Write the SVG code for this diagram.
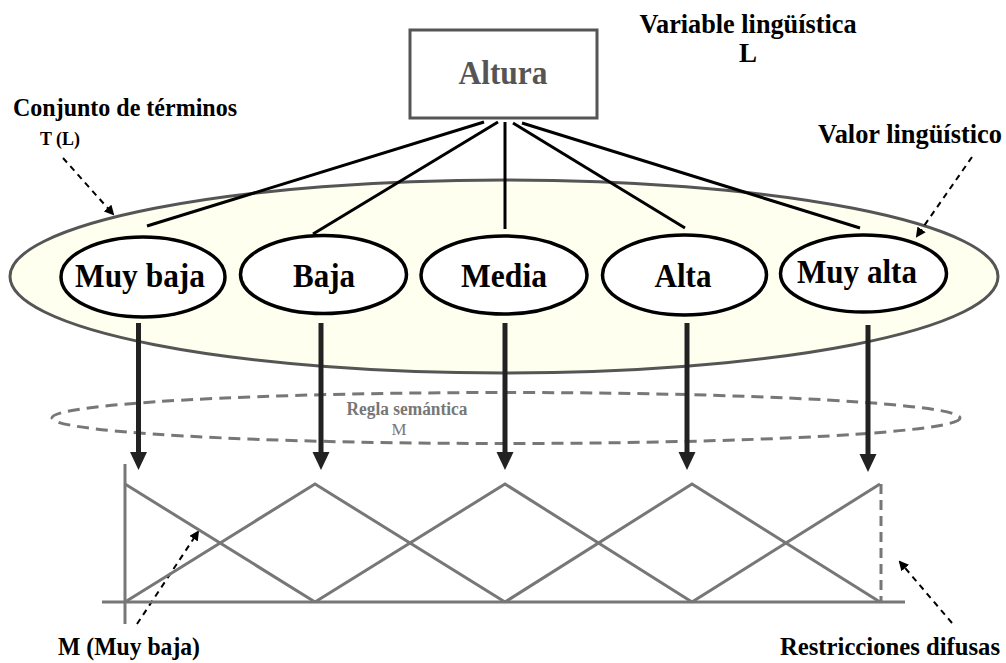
<svg xmlns="http://www.w3.org/2000/svg" width="1006" height="663" viewBox="0 0 1006 663">
  <defs>
    <style>
      text { font-family: "Liberation Serif", "Times New Roman", Tinos, "Nimbus Roman", Times, serif; font-weight: bold; }
      .lbl { fill: #000; }
      .term { fill: #fff; stroke: #000; stroke-width: 3.5; }
      .term-text { font-size: 33px; fill: #000; text-anchor: middle; }
      .link { stroke: #000; stroke-width: 3; fill: none; }
      .thick { stroke: #222; stroke-width: 5; fill: none; }
      .head { fill: #222; }
      .note { stroke: #000; stroke-width: 2; stroke-dasharray: 6 5; fill: none; }
      .mf { stroke: #777; stroke-width: 3; fill: none; }
    </style>
    <marker id="tip" markerWidth="10" markerHeight="10" refX="8" refY="5" orient="auto" markerUnits="userSpaceOnUse">
      <path d="M0,0 L10,5 L0,10 Z" fill="#000"/>
    </marker>
  </defs>

  <rect width="1006" height="663" fill="#fff"/>

  <!-- term set -->
  <g id="term-set">
    <ellipse cx="504" cy="276.5" rx="494" ry="96.5" fill="#fffff0" stroke="#555" stroke-width="3"/>
  </g>

  <!-- semantic rule -->
  <g id="semantic-rule">
    <ellipse cx="506" cy="418" rx="454" ry="25.5" fill="none" stroke="#777" stroke-width="3" stroke-dasharray="12 7"/>
    <text x="407" y="415" font-size="18" fill="#777" text-anchor="middle" textLength="121" lengthAdjust="spacingAndGlyphs">Regla semántica</text>
    <text x="399" y="435" font-size="17" fill="#777" text-anchor="middle" style="font-weight:normal" textLength="15" lengthAdjust="spacingAndGlyphs">M</text>
  </g>

  <!-- variable -->
  <g id="altura">
    <rect x="410" y="30" width="187" height="88" fill="#fff" stroke="#555" stroke-width="3"/>
    <text x="503" y="84" font-size="34" fill="#555" text-anchor="middle" textLength="89" lengthAdjust="spacingAndGlyphs">Altura</text>
  </g>

  <!-- connectors -->
  <g id="connectors">
    <line class="link" x1="484" y1="122" x2="147" y2="226"/>
    <line class="link" x1="498" y1="122" x2="313" y2="234"/>
    <line class="link" x1="505" y1="122" x2="505" y2="229"/>
    <line class="link" x1="513" y1="123" x2="685" y2="228"/>
    <line class="link" x1="522" y1="123" x2="860" y2="228"/>

    <line class="thick" x1="138.5" y1="323" x2="138.5" y2="453"/>
    <polygon class="head" points="130,452 147,452 138.5,470"/>
    <line class="thick" x1="321" y1="323" x2="321" y2="453"/>
    <polygon class="head" points="312.5,452 329.5,452 321,470"/>
    <line class="thick" x1="505" y1="323" x2="505" y2="453"/>
    <polygon class="head" points="496.5,452 513.5,452 505,470"/>
    <line class="thick" x1="687" y1="323" x2="687" y2="453"/>
    <polygon class="head" points="678.5,452 695.5,452 687,470"/>
    <line class="thick" x1="868" y1="325" x2="868" y2="455"/>
    <polygon class="head" points="859.5,454 876.5,454 868,472"/>

    <line class="note" x1="63" y1="158" x2="113" y2="214" marker-end="url(#tip)"/>
    <line class="note" x1="972" y1="157" x2="917" y2="236" marker-end="url(#tip)"/>
    <line class="note" x1="137" y1="624" x2="198" y2="532" marker-end="url(#tip)"/>
    <line class="note" x1="952" y1="623" x2="900" y2="562" marker-end="url(#tip)"/>
  </g>

  <!-- linguistic values -->
  <g id="muy-baja">
    <ellipse class="term" cx="143" cy="277" rx="82" ry="40"/>
    <text class="term-text" x="140" y="287" textLength="130" lengthAdjust="spacingAndGlyphs">Muy baja</text>
  </g>
  <g id="baja">
    <ellipse class="term" cx="323.5" cy="274.5" rx="83" ry="39"/>
    <text class="term-text" x="324" y="287" textLength="62" lengthAdjust="spacingAndGlyphs">Baja</text>
  </g>
  <g id="media">
    <ellipse class="term" cx="504" cy="275" rx="83" ry="39"/>
    <text class="term-text" x="504" y="287" textLength="86" lengthAdjust="spacingAndGlyphs">Media</text>
  </g>
  <g id="alta">
    <ellipse class="term" cx="684.5" cy="275" rx="82" ry="40"/>
    <text class="term-text" x="683" y="287" textLength="57" lengthAdjust="spacingAndGlyphs">Alta</text>
  </g>
  <g id="muy-alta">
    <ellipse class="term" cx="863.5" cy="273.5" rx="83" ry="38.5"/>
    <text class="term-text" x="857" y="283" textLength="120" lengthAdjust="spacingAndGlyphs">Muy alta</text>
  </g>

  <!-- fuzzy restrictions -->
  <g id="membership">
    <line class="mf" x1="125" y1="464" x2="125" y2="624"/>
    <line class="mf" x1="102" y1="602" x2="905" y2="602"/>
    <polyline class="mf" points="125,484 315,602"/>
    <polyline class="mf" points="125,602 315,484 505,602"/>
    <polyline class="mf" points="315,602 505,484 692,602"/>
    <polyline class="mf" points="505,602 692,484 880,602"/>
    <polyline class="mf" points="692,602 880,484"/>
    <line class="mf" x1="881" y1="484" x2="881" y2="602" stroke-dasharray="10 6"/>
  </g>

  <!-- annotations -->
  <g id="labels">
    <text class="lbl" x="748" y="33" font-size="27" text-anchor="middle" textLength="217" lengthAdjust="spacingAndGlyphs">Variable lingüística</text>
    <text class="lbl" x="748" y="62" font-size="27" text-anchor="middle">L</text>
    <text class="lbl" x="13" y="116" font-size="25" textLength="224" lengthAdjust="spacingAndGlyphs">Conjunto de términos</text>
    <text class="lbl" x="40" y="145" font-size="18" textLength="40" lengthAdjust="spacingAndGlyphs">T (L)</text>
    <text class="lbl" x="818" y="143" font-size="27" textLength="184" lengthAdjust="spacingAndGlyphs">Valor lingüístico</text>
    <text class="lbl" x="58" y="655" font-size="25" textLength="142" lengthAdjust="spacingAndGlyphs">M (Muy baja)</text>
    <text class="lbl" x="780" y="655" font-size="25" textLength="220" lengthAdjust="spacingAndGlyphs">Restricciones difusas</text>
  </g>
</svg>
